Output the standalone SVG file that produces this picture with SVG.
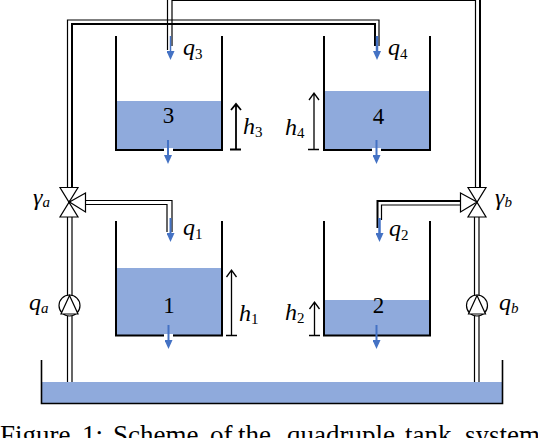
<svg xmlns="http://www.w3.org/2000/svg" width="538" height="438" viewBox="0 0 538 438">
<style>
.pipe{fill:none;stroke:#000;stroke-width:1.2}
.pipeb{fill:none;stroke:#000;stroke-width:2}
.wall{fill:none;stroke:#000;stroke-width:2}
.water{fill:#8faadc}
.flow{stroke:#4472c4;stroke-width:2;fill:none;marker-end:url(#b)}
.lvl{stroke:#000;stroke-width:1.3;fill:none}
.sym{fill:#fff;stroke:#000;stroke-width:1.2}
.m{font-family:"Liberation Serif",serif;font-style:italic;font-size:24px;fill:#000}
.s{font-size:15px;font-style:normal}
.si{font-size:15px;font-style:italic}
.n{font-family:"Liberation Serif",serif;font-size:23px;text-anchor:middle;fill:#000}
.cap{font-family:"Liberation Serif",serif;font-size:27px;fill:#000}
</style>
<defs>
<marker id="b" markerUnits="userSpaceOnUse" markerWidth="9" markerHeight="8" refX="5" refY="4" orient="auto" viewBox="0 0 9 8"><path d="M0 0L9 4L0 8Z" fill="#4472c4"/></marker>
</defs>
<g id="connectors">
<path class="pipe" d="M67.500 188V20H379V46"/>
<path class="pipeb" d="M72 188V24H375V46"/>
<path class="pipe" d="M167.500 0V50"/>
<path class="pipe" d="M172 46V0.500H475.500V188"/>
<path class="pipeb" d="M480 0V188"/>
<path class="pipe" d="M86 200.500H172V232"/>
<path class="pipe" d="M86 204.500H167V232"/>
<path class="pipeb" d="M377.500 228V201H460"/>
<path class="pipe" d="M381.500 220V205H460"/>
<path class="pipe" d="M67.500 217V296M72 217V296M67.500 316V382M72 316V382"/>
<path class="pipe" d="M474.500 217V296M479 217V296M474.500 316V382M479 316V382"/>
</g>
<g id="tank3">
<rect class="water" x="116" y="101" width="106" height="49"/>
<path class="wall" d="M116 36V150H222V36"/>
<rect x="164" y="148" width="9" height="3" fill="#fff"/>
<path class="flow" d="M170.500 36V56" style="stroke-width:1.500"/>
<path class="flow" d="M168 140V160"/>
<path class="lvl" d="M230 149.500H241M236 149.500V104M231 110L236 104L241 110" style="stroke-width:1.800"/>
<text class="n" x="168.500" y="123">3</text>
<text class="m" x="183" y="55">q<tspan class="s" dy="4">3</tspan></text>
<text class="m" x="243" y="134">h<tspan class="s" dy="3">3</tspan></text>
</g>
<g id="tank4">
<rect class="water" x="324" y="91" width="106" height="59"/>
<path class="wall" d="M324 36V150H430V36"/>
<rect x="372" y="148" width="9" height="3" fill="#fff"/>
<path class="flow" d="M377 36V56" style="stroke-width:2.500"/>
<path class="flow" d="M376.500 140V160"/>
<path class="lvl" d="M308 149.500H319M314 149.500V93M309 100L314 93L319 100"/>
<text class="n" x="378.500" y="124">4</text>
<text class="m" x="388" y="55">q<tspan class="s" dy="4">4</tspan></text>
<text class="m" x="285" y="135">h<tspan class="s" dy="3">4</tspan></text>
</g>
<g id="tank1">
<rect class="water" x="116" y="268" width="106" height="68"/>
<path class="wall" d="M116 221V335.500H222V221"/>
<rect x="164" y="334" width="9" height="3" fill="#fff"/>
<path class="flow" d="M170.500 218V238"/>
<path class="flow" d="M168.500 325V345"/>
<path class="lvl" d="M226 335.500H237M231.500 335.500V270M226.500 277L231.500 270L236.500 277"/>
<text class="n" x="169" y="313">1</text>
<text class="m" x="183" y="235">q<tspan class="s" dy="4">1</tspan></text>
<text class="m" x="239" y="321">h<tspan class="s" dy="3">1</tspan></text>
</g>
<g id="tank2">
<rect class="water" x="324" y="300" width="106" height="36"/>
<path class="wall" d="M324 221V335.500H430V221"/>
<path class="flow" d="M379.500 218V238" style="stroke-width:2.500"/>
<path class="flow" d="M376.500 325V345"/>
<path class="lvl" d="M309 335.500H320M314.500 335.500V302M309.500 309L314.500 302L319.500 309"/>
<text class="n" x="378.500" y="313">2</text>
<text class="m" x="389" y="236">q<tspan class="s" dy="4">2</tspan></text>
<text class="m" x="285" y="320">h<tspan class="s" dy="3">2</tspan></text>
</g>
<g id="valve-a">
<path class="sym" d="M60 187.500H78L60 217H78Z"/>
<path class="sym" d="M69.500 202L85.500 193V212Z"/>
<circle cx="69.500" cy="202" r="1.500"/>
<text class="m" x="33" y="205">γ<tspan class="si" dy="2">a</tspan></text>
</g>
<g id="valve-b">
<path class="sym" d="M468 187.500H486L468 217H486Z"/>
<path class="sym" d="M477 202L460.500 193V212Z"/>
<text class="m" x="495" y="205">γ<tspan class="si" dy="2">b</tspan></text>
</g>
<g id="pump-a">
<circle class="sym" cx="69.500" cy="305.500" r="10.500"/>
<path class="sym" d="M69.500 295.500L61 314H78Z"/>
<text class="m" x="29" y="310">q<tspan class="si" dy="3">a</tspan></text>
</g>
<g id="pump-b">
<circle class="sym" cx="477" cy="305.500" r="10.500"/>
<path class="sym" d="M477 295.500L468.500 314H485.500Z"/>
<text class="m" x="499" y="310">q<tspan class="si" dy="3">b</tspan></text>
</g>
<g id="reservoir">
<rect class="water" x="41.500" y="382" width="461" height="22"/>
<path class="wall" d="M41.500 360V403.500H502.500V360" style="stroke-width:1.600"/>
</g>
<text class="cap" y="444"><tspan x="0">Figure</tspan> <tspan x="82">1:</tspan> <tspan x="113">Scheme</tspan> <tspan x="210">of</tspan> <tspan x="238">the</tspan> <tspan x="287">quadruple</tspan> <tspan x="405">tank</tspan> <tspan x="465">system</tspan></text>
</svg>
